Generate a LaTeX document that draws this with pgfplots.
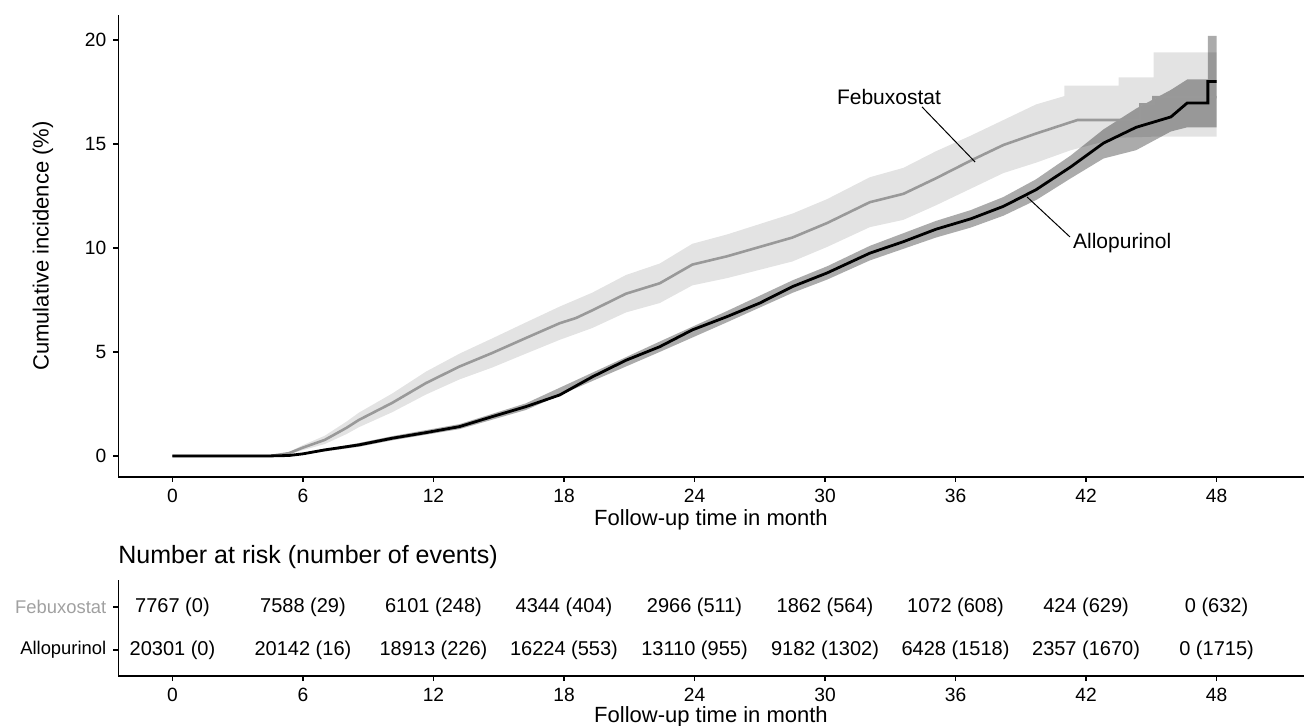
\documentclass[border=0pt]{standalone}
\usepackage{pgfplots}
\usepackage{pgfplotstable}
\pgfplotsset{compat=1.18}
\usepackage{fontspec}
\setmainfont{Liberation Sans}

\definecolor{febline}{HTML}{999999}
\definecolor{febtext}{HTML}{A0A0A0}

% number at risk (number of events)
\pgfplotstableread[col sep=comma]{
x,y,label
0,2,7767 (0)
6,2,7588 (29)
12,2,6101 (248)
18,2,4344 (404)
24,2,2966 (511)
30,2,1862 (564)
36,2,1072 (608)
42,2,424 (629)
48,2,0 (632)
0,1,20301 (0)
6,1,20142 (16)
12,1,18913 (226)
18,1,16224 (553)
24,1,13110 (955)
30,1,9182 (1302)
36,1,6428 (1518)
42,1,2357 (1670)
48,1,0 (1715)
}\risktable

\pgfplotsset{
  kmstyle/.style={
    scale only axis,
    anchor=north west,
    width=592.85pt,
    xmin=-2.49, xmax=52.02,
    axis x line*=bottom, axis y line*=left,
    axis line style={-, line width=0.8pt},
    xtick={0,6,...,48},
    tick align=outside,
    major tick length=2.5pt,
    every tick/.style={black, line width=0.8pt},
    ticklabel style={font=\fontsize{9.6}{11}\selectfont},
    /pgf/number format/assume math mode=true,
  }
}

\begin{document}
\begin{tikzpicture}
\path[use as bounding box] (0,0) rectangle (652pt,-362.5pt);

\begin{axis}[kmstyle,
    at={(59.15pt,-7.5pt)},
    height=230.85pt,
    ymin=-1, ymax=21.2,
    ytick={0,5,...,20},
    clip=false,
]
% Febuxostat confidence band
\addplot[draw=none, fill=black, fill opacity=0.11] coordinates {
 (0,0)(4.5,0)(5.35,0.18)(6,0.52)(7,0.97)(8,1.65)(8.57,2.08)(10.1,3.0)
 (11.65,4.05)(13.2,4.92)(14.7,5.65)(16.25,6.42)(17.8,7.18)(19.3,7.85)
 (20.85,8.7)(22.4,9.25)(23.9,10.2)(25.5,10.65)(27,11.15)(28.5,11.65)
 (30.1,12.35)(32.06,13.4)(33.6,13.85)(35.1,14.65)(36.7,15.4)(38.2,16.15)
 (39.7,16.9)(41.0,17.3)(41.0,17.8)(43.5,17.8)(43.5,18.2)(45.1,18.2)
 (45.1,19.4)(48,19.4)
 (48,15.35)(45.1,15.35)(43.5,15.3)(41.3,14.7)(39.7,14.1)(38.2,13.6)
 (36.7,12.85)(35.1,12.05)(33.6,11.35)(32.06,11.0)(30.1,10.05)(28.5,9.35)
 (27,8.95)(25.5,8.55)(23.9,8.2)(22.4,7.35)(20.85,6.9)(19.3,6.15)
 (17.8,5.58)(16.25,4.92)(14.7,4.25)(13.2,3.68)(11.65,2.95)(10.1,2.1)
 (8.57,1.38)(8,1.05)(7,0.57)(6,0.28)(5.35,0.08)(4.5,0)
} -- cycle;
% Allopurinol confidence band
\addplot[draw=none, fill=black, fill opacity=0.33] coordinates {
 (0,0)(4.5,0)(6,0.13)(8.57,0.62)(10.1,0.95)(13.2,1.53)(16.25,2.53)
 (19.3,4.0)(22.4,5.5)(25.5,6.97)(28.5,8.44)(30.1,9.12)(32.06,10.1)
 (35.1,11.3)(36.7,11.82)(38.2,12.45)(39.7,13.3)(41.3,14.45)(42.8,15.7)
 (44.3,16.7)(45.9,17.6)(46.65,18.1)(47.6,18.1)(47.6,20.2)(48,20.2)
 (48,15.8)(46.65,15.8)(45.9,15.6)(44.3,14.7)(42.8,14.3)(41.3,13.35)
 (39.7,12.3)(38.2,11.55)(36.7,10.98)(35.1,10.5)(32.06,9.4)(30.1,8.48)
 (28.5,7.84)(25.5,6.43)(22.4,5.0)(19.3,3.6)(16.25,2.21)(13.2,1.29)
 (10.1,0.75)(8.57,0.44)(6,0.07)(4.5,0)
} -- cycle;
% Febuxostat
\addplot[febline, line width=1.3pt] coordinates {
 (0,0)(4.5,0)(5.35,0.13)(6,0.4)(7,0.77)(8,1.35)(8.57,1.73)(10.1,2.55)
 (11.65,3.5)(13.2,4.3)(14.7,4.95)(16.25,5.67)(17.8,6.38)(18.55,6.63)
 (19.3,7.0)(20.85,7.8)(22.4,8.3)(23.9,9.2)(25.5,9.6)(27.0,10.05)
 (28.5,10.5)(30.1,11.2)(32.06,12.2)(33.6,12.6)(35.1,13.35)(36.7,14.2)
 (38.2,14.95)(39.7,15.5)(41.6,16.15)(44.5,16.15)(44.5,16.9)(45.1,16.9)
 (45.1,17.25)(48,17.25)
};
% Allopurinol
\addplot[black, line width=1.4pt] coordinates {
 (0,0)(4.5,0)(5.35,0.02)(6,0.1)(7,0.29)(8.57,0.53)(10.1,0.85)(11.65,1.12)
 (13.2,1.41)(14.7,1.89)(16.25,2.37)(17.8,2.93)(19.3,3.8)(20.85,4.6)
 (22.4,5.25)(23.9,6.06)(25.5,6.7)(27,7.35)(28.5,8.14)(30.1,8.8)
 (32.06,9.75)(33.6,10.3)(35.1,10.9)(36.7,11.4)(38.2,12.0)(39.7,12.8)
 (41.3,13.9)(42.8,15.04)(44.3,15.8)(45.9,16.3)(46.65,16.97)(47.6,16.97)
 (47.6,18.0)(48,18.0)
};
% curve labels
\draw[line width=0.5pt] (axis cs:34.46,16.78) -- (axis cs:36.9,14.13);
\node[font=\fontsize{10.5}{12}\selectfont] at (axis cs:32.94,17.26) {Febuxostat};
\draw[line width=0.5pt] (axis cs:39.29,12.45) -- (axis cs:41.26,10.53);
\node[font=\fontsize{10.5}{12}\selectfont] at (axis cs:43.66,10.24) {Allopurinol};
\end{axis}

\begin{axis}[kmstyle,
    at={(59.15pt,-290pt)},
    height=48pt,
    ymin=0.4, ymax=2.62,
    ytick={1,2},
    yticklabels={Allopurinol,\textcolor{febtext}{Febuxostat}},
    yticklabel style={font=\fontsize{9.2}{11}\selectfont},
]
\addplot[draw=none, mark=none, nodes near coords, point meta=explicit symbolic,
  nodes near coords style={anchor=center, font=\fontsize{10}{12}\selectfont, black}]
  table[x=x, y=y, meta=label] {\risktable};
\end{axis}

\node[rotate=90, font=\fontsize{11}{13}\selectfont] at (21.5pt,-123pt) {Cumulative incidence (\%)};
\node[font=\fontsize{11}{13}\selectfont] at (355.5pt,-260pt) {Follow-up time in month};
\node[anchor=west, inner sep=0pt, font=\fontsize{12.5}{14}\selectfont] at (59pt,-278.5pt) {Number at risk (number of events)};
\node[font=\fontsize{11}{13}\selectfont] at (355.5pt,-358.2pt) {Follow-up time in month};
\end{tikzpicture}
\end{document}
